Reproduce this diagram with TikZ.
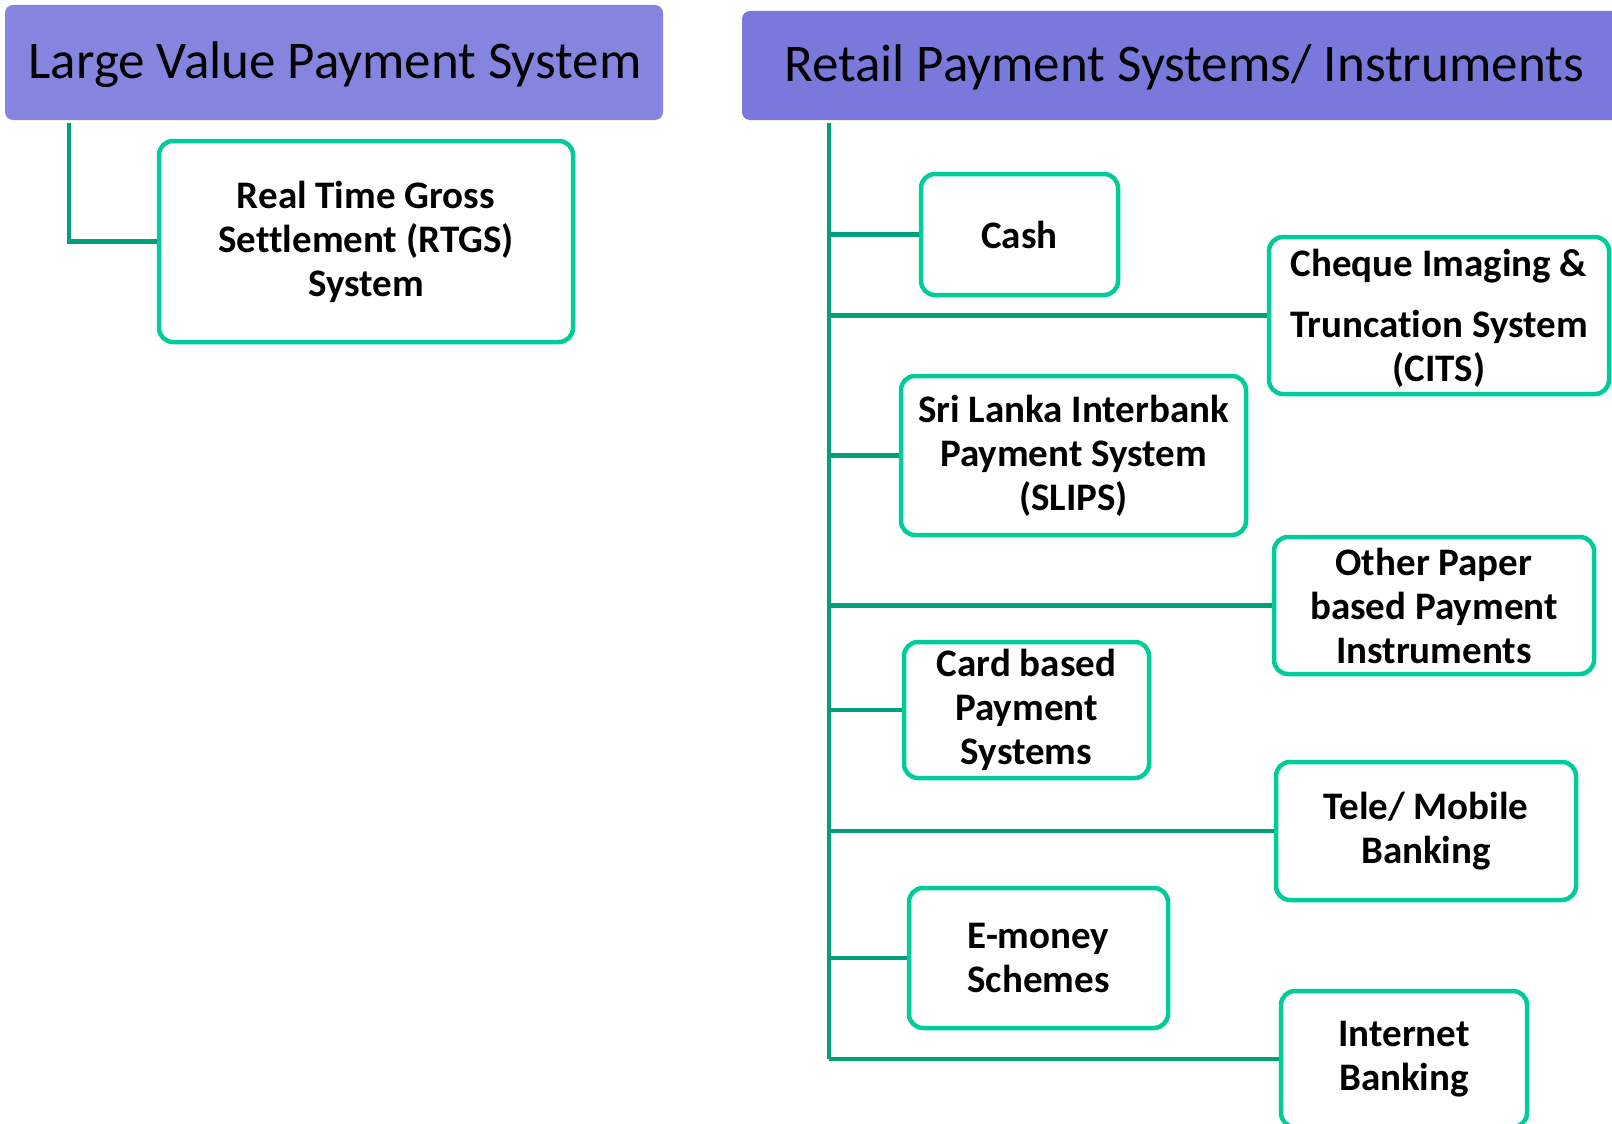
\documentclass[tikz,border=0pt]{standalone}
\usepackage{fontspec}
\setmainfont{Carlito}[RawFeature={-liga}]
\definecolor{hdrL}{RGB}{133,133,224}
\definecolor{hdrR}{RGB}{121,121,220}
\definecolor{boxg}{RGB}{0,204,153}
\definecolor{lineg}{RGB}{0,161,122}
\begin{document}
\begin{tikzpicture}[x=1pt,y=-1pt,
  item/.style={draw=boxg, line width=4.5pt, rounded corners=14pt, fill=white,
    align=center, font=\fontsize{39}{44}\selectfont\bfseries, inner sep=0pt},
  conn/.style={draw=lineg, line width=4.5pt}]
\useasboundingbox (0,0) rectangle (1612,1124);
\begin{scope}
\clip (0,0) rectangle (1612,1124);
% headers
\fill[hdrL, rounded corners=8pt] (5,5) rectangle (663,120);
\node (hL) at (335,65) {\fontsize{53}{60}\selectfont Large Value Payment System};
\fill[hdrR, rounded corners=8pt] (742,11) rectangle (1650,120);
\node (hR) at (1184,67) {\fontsize{53}{60}\selectfont Retail Payment Systems/ Instruments};
% boxes
\node[item, minimum width=414pt, minimum height=201pt] (rtgs) at (366,241.5)
  {Real Time Gross\\Settlement (RTGS)\\System};
\node[item, minimum width=197pt, minimum height=121pt] (cash) at (1019.5,234.5) {Cash};
\node[item, minimum width=340pt, minimum height=157pt] (cits) at (1439,315.5) {};
\node[font=\fontsize{39}{44}\selectfont\bfseries, align=center] (citst) at (1439,318)
  {Cheque Imaging \&\\[17pt]Truncation System\\(CITS)};
\node[item, minimum width=345pt, minimum height=159pt] (slips) at (1073.5,455.5)
  {Sri Lanka Interbank\\Payment System\\(SLIPS)};
\node[item, minimum width=320pt, minimum height=137pt] (paper) at (1434,605.5)
  {Other Paper\\based Payment\\Instruments};
\node[item, minimum width=245pt, minimum height=136pt] (card) at (1026.5,710)
  {Card based\\Payment\\Systems};
\node[item, minimum width=300pt, minimum height=138pt] (tele) at (1426,831)
  {Tele/ Mobile\\Banking};
\node[item, minimum width=259pt, minimum height=140pt] (emoney) at (1038.5,958)
  {E-money\\Schemes};
\node[item, minimum width=246pt, minimum height=136pt] (inet) at (1404,1059)
  {Internet\\Banking};
% connectors
\coordinate (lt) at (69,123);
\draw[conn] (lt) |- (rtgs.west);
\coordinate (rt) at (829,123);
\coordinate (rb) at (829,1059);
\draw[conn] (rt) -- (rb);
\foreach \b in {cash,cits,slips,paper,card,tele,emoney}
  \draw[conn] (\b.west -| rt) -- (\b.west);
\draw[conn] (rb) -- (inet.west);
\end{scope}
\end{tikzpicture}
\end{document}
